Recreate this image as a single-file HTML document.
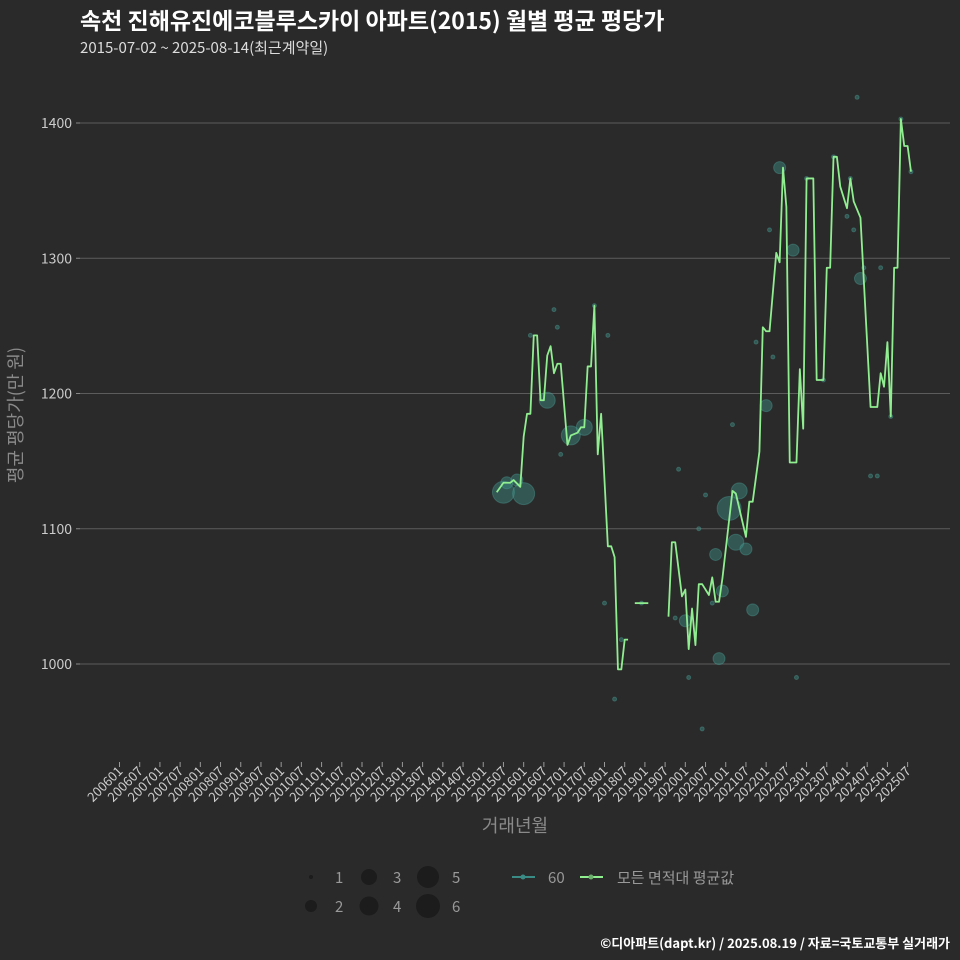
<!DOCTYPE html>
<html><head><meta charset="utf-8"><style>
body{margin:0;background:#2a2a2a;}
svg{display:block;font-family:"Noto Sans CJK KR","Liberation Sans",sans-serif;}
</style></head><body>
<svg id="chart" width="960" height="960" viewBox="0 0 960 960">
<rect width="960" height="960" fill="#2a2a2a"/>
<text x="80" y="29" fill="#ffffff" font-size="23" font-weight="bold">속천 진해유진에코블루스카이 아파트(2015) 월별 평균 평당가</text>
<text x="80" y="53" fill="#dddddd" font-size="15">2015-07-02 ~ 2025-08-14(최근계약일)</text>
<g id="grid"></g>
<g id="yticks"></g>
<g id="xticks"></g>
<g id="bubbles"></g>
<g id="lines"></g>
<text transform="translate(22,415) rotate(-90)" text-anchor="middle" fill="#8a8a8a" font-size="18">평균 평당가(만 원)</text>
<text x="515" y="832" text-anchor="middle" fill="#8a8a8a" font-size="18">거래년월</text>
<g>
<circle cx="311" cy="877" r="2" fill="#1c1c1c"/>
<text x="335" y="883" fill="#999" font-size="15">1</text>
<circle cx="311" cy="906" r="6" fill="#1c1c1c"/>
<text x="335" y="912" fill="#999" font-size="15">2</text>
<circle cx="369" cy="877" r="8" fill="#1c1c1c"/>
<text x="393" y="883" fill="#999" font-size="15">3</text>
<circle cx="369" cy="906" r="9.5" fill="#1c1c1c"/>
<text x="393" y="912" fill="#999" font-size="15">4</text>
<circle cx="428" cy="877" r="11" fill="#1c1c1c"/>
<text x="452" y="883" fill="#999" font-size="15">5</text>
<circle cx="428" cy="906" r="12" fill="#1c1c1c"/>
<text x="452" y="912" fill="#999" font-size="15">6</text>
</g>
<g>
<line x1="512" y1="877" x2="535" y2="877" stroke="#3a8a86" stroke-width="2"/>
<circle cx="523" cy="877" r="2.5" fill="#3a8a86"/>
<text x="548" y="883" fill="#999" font-size="15">60</text>
<line x1="580" y1="877" x2="603" y2="877" stroke="#90ee90" stroke-width="2"/>
<circle cx="591" cy="877" r="2.5" fill="#6cae6c"/>
<text x="617" y="883" fill="#999" font-size="15">모든 면적대 평균값</text>
</g>
<text x="950" y="948" text-anchor="end" fill="#ffffff" font-size="13" font-weight="bold">©디아파트(dapt.kr) / 2025.08.19 / 자료=국토교통부 실거래가</text>
</svg>
<script>
// months are indices from 2006-01
const yTicks=[1000,1100,1200,1300,1400];
const xTickLabels=[];
for(let y=2006;y<=2025;y++){xTickLabels.push(y+"01");xTickLabels.push(y+"07");}
const lineMonths=[112,114,116,117,119,120,121,122,123,124,125,126,127,128,129,130,131,133,134,136,137,138,139,140,141,142,143,145,146,147,148,149,150,151,null,153,154,155,156,157,null,163,164,165,167,168,169,170,171,172,173,175,176,177,178,179,182,183,186,187,188,190,191,192,193,195,196,197,198,199,201,202,203,204,206,207,209,210,211,212,213,214,216,217,218,220,223,225,226,227,228,229,230,231,232,233,234,235];
const lineValues=[1127,1134,1134,1136,1131,1168,1185,1185,1243,1243,1195,1195,1228,1235,1215,1222,1222,1162,1169,1171,1175,1175,1220,1220,1265,1155,1185,1087,1087,1079,996,996,1018,1018,null,1045,1045,1045,1045,1045,null,1035,1090,1090,1050,1055,1011,1041,1014,1059,1059,1051,1064,1046,1046,1063,1128,1126,1094,1120,1120,1157,1249,1246,1246,1304,1297,1367,1338,1149,1149,1218,1174,1359,1359,1210,1210,1293,1293,1375,1375,1353,1337,1359,1342,1330,1190,1190,1215,1205,1238,1183,1293,1293,1403,1383,1383,1364];
const bubbleMonths=[114,115,118,120,122,129,130,127,131,134,138,141,145,144,149,147,155,166,165,168,169,174,172,177,176,179,178,181,184,183,186,182,188,189,192,194,193,196,200,201,204,209,212,216,217,218,219,221,220,226,223,225,229,232,235,173];
const bubbleValues=[1127,1134,1136,1126,1243,1262,1249,1195,1155,1169,1175,1265,1243,1045,1018,974,1045,1144,1034,1032,990,1125,1100,1081,1045,1054,1004,1115,1128,1090,1085,1177,1040,1238,1191,1227,1321,1367,1306,990,1359,1210,1375,1331,1359,1321,1419,1293,1285,1293,1139,1139,1183,1403,1364,952];
const bubbleCounts=[5,2,2,5,1,1,1,3,1,4,3,1,1,1,1,1,1,1,1,2,1,1,1,2,1,2,2,6,3,3,2,1,2,1,2,1,1,2,2,1,1,1,1,1,1,1,1,1,2,1,1,1,1,1,1,1];
const radiusBySize=[0,2,6,8,9.5,11,12];
const NS="http://www.w3.org/2000/svg";
function xs(m){return 119.5+m*3.368;}
function ys(v){return 664-(v-1000)*1.3525;}
function mk(t,a,p){const e=document.createElementNS(NS,t);for(const k in a)e.setAttribute(k,a[k]);p.appendChild(e);return e;}
const grid=document.getElementById('grid'),yt=document.getElementById('yticks'),xt=document.getElementById('xticks');
yTicks.forEach(v=>{
 const g=mk('line',{x1:80,x2:950,y1:ys(v),y2:ys(v),stroke:'#5c5c5c','stroke-width':1},grid);
 
 
 const tk=mk('line',{x1:76,x2:80,y1:ys(v),y2:ys(v),stroke:'#888'},yt);
 
 
 const t=mk('text',{x:72,y:ys(v)+5,'text-anchor':'end',fill:'#cccccc','font-size':14},yt);
 t.textContent=v;
 
 
});
xTickLabels.forEach((lab,i)=>{
 const x=xs(i*6);
 const tk=mk('line',{x1:x,x2:x,y1:762,y2:767,stroke:'#999'},xt);
 
 
 const t=mk('text',{transform:'translate('+(x+4)+',772) rotate(-45)','text-anchor':'end',fill:'#cccccc','font-size':13},xt);
 t.textContent=lab;
 
 
});
const bg=document.getElementById('bubbles');
bubbleMonths.forEach((m,i)=>{
 const c=mk('circle',{cx:xs(m),cy:ys(bubbleValues[i]),r:radiusBySize[bubbleCounts[i]],fill:'rgba(62,145,136,0.45)',stroke:'rgba(80,170,160,0.35)','stroke-width':1},bg);
 
 
});
const lg=document.getElementById('lines');
let seg=[];
function flush(){if(seg.length){const p=mk('polyline',{points:seg.join(' '),fill:'none',stroke:'#90ee90','stroke-width':1.8,'stroke-linejoin':'round'},lg);
 
 
 seg=[];}}
lineMonths.forEach((m,i)=>{if(m===null||lineValues[i]===null){flush();return;}seg.push(xs(m)+','+ys(lineValues[i]));});
flush();
</script>
</body></html>
